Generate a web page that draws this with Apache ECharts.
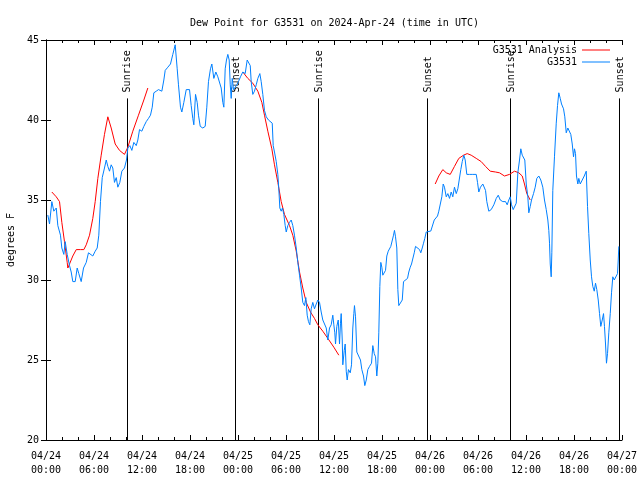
<!DOCTYPE html>
<html>
<head>
<meta charset="utf-8">
<script src="https://cdn.jsdelivr.net/npm/echarts@6/dist/echarts.min.js"></script>
<style>html,body{margin:0;padding:0;background:#fff}#c{width:640px;height:480px}</style>
</head>
<body>
<div id="c"></div>
<script>
// hours since 2024-04-24 00:00 UTC
const xTickLabels = ['04/24\n00:00','04/24\n06:00','04/24\n12:00','04/24\n18:00','04/25\n00:00','04/25\n06:00','04/25\n12:00','04/25\n18:00','04/26\n00:00','04/26\n06:00','04/26\n12:00','04/26\n18:00','04/27\n00:00'];

const obsHours = [0.23,0.44,0.73,0.98,1.28,1.48,1.81,1.98,2.23,2.4,2.65,2.94,3.15,3.35,3.65,3.9,4.1,4.4,4.69,5.03,5.31,5.56,5.85,6.15,6.4,6.6,6.81,7.03,7.31,7.53,7.73,7.94,8.15,8.35,8.56,8.78,8.98,9.23,9.48,9.81,10.06,10.23,10.48,10.73,10.98,11.28,11.48,11.69,11.98,12.23,12.53,12.81,13.06,13.28,13.48,13.78,14.06,14.31,14.48,14.73,14.9,15.23,15.56,15.85,16.15,16.4,16.56,16.81,16.98,17.23,17.53,17.73,17.94,18.15,18.35,18.48,18.69,18.9,19.06,19.28,19.6,19.9,20.1,20.31,20.56,20.73,20.98,21.23,21.48,21.73,21.9,22.1,22.23,22.4,22.56,22.73,22.9,23.03,23.15,23.28,23.44,23.65,23.85,24.06,24.31,24.6,24.9,25.15,25.35,25.53,25.65,25.85,26.06,26.28,26.48,26.73,26.9,27.1,27.31,27.53,27.81,28.06,28.28,28.4,28.56,28.78,28.98,29.1,29.23,29.4,29.56,29.73,29.9,30.03,30.23,30.44,30.65,30.85,31.06,31.28,31.48,31.69,31.9,32.1,32.31,32.48,32.65,32.81,32.98,33.15,33.35,33.56,33.78,33.98,34.19,34.4,34.6,34.81,35.03,35.23,35.44,35.65,35.85,35.98,36.1,36.19,36.35,36.53,36.69,36.81,36.9,37.03,37.1,37.28,37.4,37.53,37.65,37.81,38.03,38.19,38.35,38.48,38.56,38.69,38.85,39.1,39.31,39.48,39.69,39.85,40.03,40.23,40.44,40.69,40.85,41.03,41.19,41.35,41.48,41.6,41.73,41.85,41.98,42.1,42.35,42.44,42.6,42.78,42.94,43.1,43.28,43.44,43.56,43.69,43.85,43.98,44.1,44.35,44.53,44.69,44.94,45.19,45.35,45.53,45.69,45.85,46.03,46.19,46.44,46.69,46.85,47.03,47.19,47.35,47.53,47.78,48.1,48.35,48.53,48.69,48.94,49.1,49.35,49.48,49.65,49.81,50.03,50.23,50.44,50.65,50.85,51.06,51.28,51.48,51.69,51.85,52.03,52.23,52.4,52.6,52.94,53.35,53.78,53.94,54.1,54.31,54.6,54.81,54.94,55.1,55.35,55.65,55.98,56.28,56.53,56.78,57.1,57.44,57.65,57.85,58.03,58.19,58.4,58.6,58.78,58.98,59.19,59.35,59.53,59.69,59.85,60.03,60.23,60.35,60.53,60.69,60.94,61.15,61.35,61.6,61.85,62.1,62.31,62.53,62.73,62.85,62.94,63.03,63.15,63.23,63.35,63.56,63.78,63.94,64.1,64.28,64.44,64.69,64.85,65.03,65.23,65.44,65.6,65.78,65.94,66.06,66.19,66.31,66.48,66.6,66.78,67.03,67.28,67.53,67.69,67.85,68.03,68.19,68.35,68.53,68.69,68.85,69.03,69.19,69.35,69.53,69.69,69.81,69.94,70.06,70.19,70.35,70.53,70.69,70.85,71.03,71.28,71.44,71.53,71.6];
const obsDew = [34.06,33.5,34.9,34.3,34.5,33.4,32.8,32.0,31.6,32.4,31.6,30.9,30.5,29.9,29.9,30.75,30.4,29.9,30.75,31.1,31.7,31.8,31.5,31.8,32.0,32.8,34.9,36.4,37.0,37.5,37.1,36.8,37.2,37.0,36.1,36.4,35.8,36.1,36.8,37.0,37.5,38.25,38.4,38.1,38.6,38.4,38.75,39.4,39.3,39.6,39.9,40.1,40.3,40.8,41.7,41.8,41.9,42.0,41.8,42.5,43.1,43.3,43.5,44.1,44.7,43.2,42.2,40.8,40.5,41.1,41.9,42.0,41.9,40.9,40.1,39.7,41.6,41.1,40.3,39.6,39.5,39.6,40.8,42.4,43.2,43.5,42.6,43.0,42.7,42.6,42.0,41.1,40.8,43.2,43.75,44.1,43.75,42.2,41.35,42.6,41.9,41.8,42.2,42.4,42.7,43.0,42.9,43.75,43.85,43.4,42.4,41.6,41.8,42.2,42.6,42.9,42.4,41.6,40.6,40.2,40.0,39.9,39.8,38.4,38.0,37.4,36.6,35.7,34.5,34.3,34.5,34.1,33.4,33.0,33.4,33.6,33.75,33.4,32.8,32.0,31.1,30.3,29.5,28.6,28.4,28.9,27.8,27.4,27.2,28.2,28.6,28.2,28.5,28.75,28.6,28.0,27.5,27.4,27.0,26.25,27.0,27.2,27.8,27.2,26.7,26.0,27.1,27.5,26.0,27.3,27.9,26.25,24.7,25.6,26.0,24.3,23.75,24.4,24.2,24.7,27.0,27.9,28.4,27.7,25.5,25.4,25.0,24.4,24.0,23.4,23.75,24.4,24.6,24.8,25.9,25.4,25.2,24.0,24.8,26.7,29.6,31.1,30.8,30.3,30.3,30.6,31.5,31.8,31.8,32.1,32.2,32.8,33.1,32.7,32.0,29.4,28.4,28.4,28.75,29.9,29.9,30.1,30.5,30.8,31.0,31.0,31.7,32.1,32.1,31.9,31.7,32.0,32.3,32.6,33.0,33.06,33.06,33.06,33.75,33.85,34.0,34.3,34.4,35.2,36.0,35.8,35.2,35.4,35.1,35.5,35.2,35.8,35.4,35.7,35.8,36.9,37.4,37.8,37.5,36.6,36.6,36.6,36.6,36.1,35.5,35.8,36.0,36.1,35.6,34.9,34.3,34.4,34.7,35.1,35.3,35.0,34.9,34.9,34.7,35.0,35.2,34.7,34.4,34.3,34.8,36.7,37.5,38.2,37.8,37.9,37.5,36.0,35.2,34.2,34.6,35.0,35.4,35.8,36.35,36.5,36.25,35.8,35.0,34.4,33.75,33.1,32.3,31.0,30.2,31.7,35.6,37.7,39.8,40.9,41.7,41.35,41.0,40.7,40.2,39.2,39.5,39.6,39.1,38.5,37.7,38.2,37.9,36.5,36.0,36.35,36.0,36.1,36.5,36.8,34.6,32.9,31.25,30.2,29.6,29.3,29.8,29.4,28.75,27.9,27.1,27.5,27.9,27.1,26.0,24.8,25.4,26.7,27.9,29.2,30.2,30.0,30.0,30.4,31.25,32.1];

// analysis: null marks a gap between segments
const anaHours = [0.73,1.28,1.69,1.98,2.31,2.65,2.73,2.94,3.35,3.78,4.31,4.73,5.03,5.44,5.85,6.15,6.48,6.9,7.31,7.73,8.15,8.65,9.19,9.81,10.23,10.85,11.56,12.23,12.73,
  18,
  24.6,25.23,25.85,26.48,26.98,27.31,27.73,28.23,28.56,28.98,29.4,29.81,30.44,30.85,31.28,31.69,32.1,32.53,33.06,33.56,33.98,34.6,35.23,35.98,36.6,
  42,
  48.65,49.1,49.6,50.03,50.53,51.06,51.6,52.19,52.65,53.15,53.78,54.4,54.94,55.53,56.19,56.69,57.31,57.94,58.56,59.1,59.53,59.81,60.1,60.53];
const anaDew = [35.5,35.2,34.9,33.6,32.4,31.1,30.75,31.0,31.5,31.9,31.9,31.9,32.2,32.8,33.85,34.9,36.35,37.8,39.1,40.2,39.5,38.5,38.1,37.85,38.3,39.3,40.3,41.25,42.0,
  null,
  43.0,42.6,42.3,41.8,41.1,40.3,39.3,38.2,37.2,36.1,34.9,34.1,33.4,32.8,31.8,30.5,29.5,28.6,28.0,27.6,27.2,26.8,26.35,25.8,25.3,
  null,
  36.0,36.5,36.9,36.7,36.6,37.1,37.6,37.8,37.9,37.8,37.6,37.4,37.1,36.8,36.75,36.7,36.5,36.6,36.8,36.7,36.5,36.0,35.4,35.0];

const sunHours = [10.08, 23.62, 34.05, 47.63, 58.02, 71.67];
const sunLabels = ['Sunrise','Sunset','Sunrise','Sunset','Sunrise','Sunset'];

const FONT = 'DejaVu Sans Mono';
const SUN_TOP = 41.35;

const chart = echarts.init(document.getElementById('c'), null, {renderer: 'canvas'});

const axisCommon = {
  axisLine: {show: true, lineStyle: {color: '#000', width: 1}},
  splitLine: {show: false}
};
const legendCommon = {
  right: 30, padding: 0, itemWidth: 28, itemHeight: 1, align: 'right', icon: 'rect',
  textStyle: {fontFamily: FONT, fontSize: 10, color: '#000'}
};

chart.setOption({
  animation: false,
  backgroundColor: '#fff',
  title: {
    text: 'Dew Point for G3531 on 2024-Apr-24 (time in UTC)',
    left: 185, top: 13,
    textStyle: {fontFamily: FONT, fontSize: 10, fontWeight: 'normal', color: '#000'}
  },
  legend: [
    Object.assign({}, legendCommon, {data: ['G3531 Analysis'], top: 45}),
    Object.assign({}, legendCommon, {data: ['G3531'], top: 57})
  ],
  grid: {left: 46, right: 18, top: 40, bottom: 40, containLabel: false, outerBoundsMode: 'none'},
  xAxis: [
    Object.assign({}, axisCommon, {
      type: 'value', min: 0, max: 72, interval: 6, position: 'bottom',
      axisTick: {show: true, inside: true, length: 5, lineStyle: {color: '#000'}},
      minorTick: {show: true, splitNumber: 3, length: 3, lineStyle: {color: '#000'}},
      minorSplitLine: {show: false},
      axisLabel: {
        color: '#000', fontFamily: FONT, fontSize: 10, lineHeight: 14, margin: 9,
        formatter: v => xTickLabels[Math.round(v / 6)] || ''
      }
    }),
    Object.assign({}, axisCommon, {
      type: 'value', min: 0, max: 72, interval: 6, position: 'top',
      axisTick: {show: true, inside: true, length: 5, lineStyle: {color: '#000'}},
      minorTick: {show: true, splitNumber: 3, length: 3, lineStyle: {color: '#000'}},
      minorSplitLine: {show: false},
      axisLabel: {show: false}
    })
  ],
  yAxis: [
    Object.assign({}, axisCommon, {
      type: 'value', min: 20, max: 45, interval: 5, position: 'left',
      name: 'degrees F', nameLocation: 'middle', nameGap: 30, nameRotate: 90,
      nameTextStyle: {fontFamily: FONT, fontSize: 10, color: '#000'},
      axisTick: {show: true, inside: true, length: 5, lineStyle: {color: '#000'}},
      axisLabel: {color: '#000', fontFamily: FONT, fontSize: 10, margin: 7}
    }),
    Object.assign({}, axisCommon, {
      type: 'value', min: 20, max: 45, interval: 5, position: 'right',
      axisTick: {show: true, inside: true, length: 5, lineStyle: {color: '#000'}},
      axisLabel: {show: false}
    })
  ],
  series: [
    {
      type: 'custom', name: 'sun', xAxisIndex: 0, yAxisIndex: 0, silent: true, z: 1,
      data: sunHours.map((h, i) => [h, i]),
      renderItem: function (params, api) {
        const h = api.value(0);
        const top = api.coord([h, SUN_TOP]);
        const bot = api.coord([h, 20]);
        return {
          type: 'group',
          children: [
            {type: 'line', shape: {x1: Math.round(top[0]) + 0.5, y1: top[1], x2: Math.round(bot[0]) + 0.5, y2: bot[1]},
             style: {stroke: '#000', lineWidth: 1}},
            {type: 'text', x: top[0] + 1, y: top[1] - 6, rotation: Math.PI / 2,
             style: {text: sunLabels[api.value(1)], font: '10px ' + FONT, fill: '#000', align: 'left', verticalAlign: 'middle'}}
          ]
        };
      }
    },
    {
      type: 'line', name: 'G3531 Analysis', xAxisIndex: 0, yAxisIndex: 0, z: 2,
      symbol: 'none', showSymbol: false, connectNulls: false,
      lineStyle: {color: '#ff0000', width: 1}, itemStyle: {color: '#ff0000'},
      data: anaHours.map((h, i) => [h, anaDew[i] === null ? '-' : anaDew[i]])
    },
    {
      type: 'line', name: 'G3531', xAxisIndex: 0, yAxisIndex: 0, z: 3,
      symbol: 'none', showSymbol: false,
      lineStyle: {color: '#0080ff', width: 1}, itemStyle: {color: '#0080ff'},
      data: obsHours.map((h, i) => [h, obsDew[i]])
    }
  ]
});
</script>
</body>
</html>
